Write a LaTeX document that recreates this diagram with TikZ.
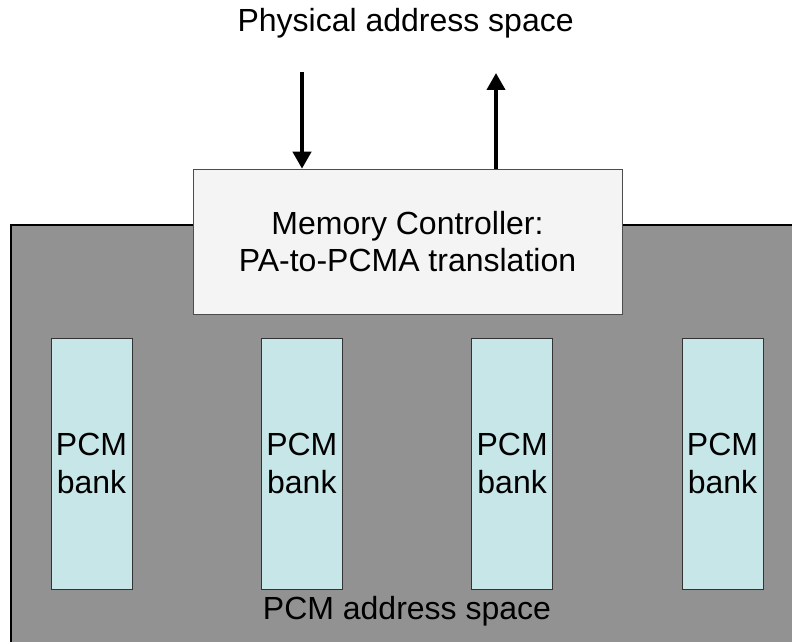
\documentclass[tikz,border=0pt]{standalone}
\usepackage{fontspec}
\setmainfont{Liberation Sans}
\usetikzlibrary{arrows.meta, positioning, calc}
\definecolor{spacegray}{RGB}{146,146,146}
\definecolor{ctrlfill}{RGB}{244,244,244}
\definecolor{bankfill}{RGB}{198,230,232}

\begin{document}
\begin{tikzpicture}[>={Triangle[width=0.45cm, length=0.425cm]},
    every node/.style={font=\fontsize{22.76}{26.5}\selectfont, align=center, inner sep=0},
    ctrl/.style={draw=black!70, fill=ctrlfill, minimum width=10.725cm, minimum height=3.625cm},
    bank/.style={draw=black!80, fill=bankfill, minimum width=2.025cm, minimum height=6.275cm}]
      \useasboundingbox (0, 0) rectangle (19.8, 16.05);

      \fill[spacegray] (0.275, 0) rectangle (19.8, 10.425);
      \draw[thick] (0.275, 0) -- (0.275, 10.425) -- (19.8, 10.425);

      \node[ctrl] (mc) at (10.1875, 10.0125) {Memory Controller:\\PA-to-PCMA translation};
      \foreach \i in {0,...,3}
        \node[bank] (bank\i) at (2.2875 + 5.258*\i, 4.4625) {PCM\\bank};

      \node[anchor=base] (pas) at (10.14, 15.25) {Physical address space};
      \node[anchor=base] (pcmas) at (10.175, 0.57) {PCM address space};

      \coordinate (pin) at (7.55, 14.25);
      \coordinate (pout) at (12.4, 14.225);
      \draw[->, line width=0.1cm] (pin) -- (pin |- mc.north);
      \draw[->, line width=0.1cm] (pout |- mc.north) -- (pout);
    \end{tikzpicture}
\end{document}
